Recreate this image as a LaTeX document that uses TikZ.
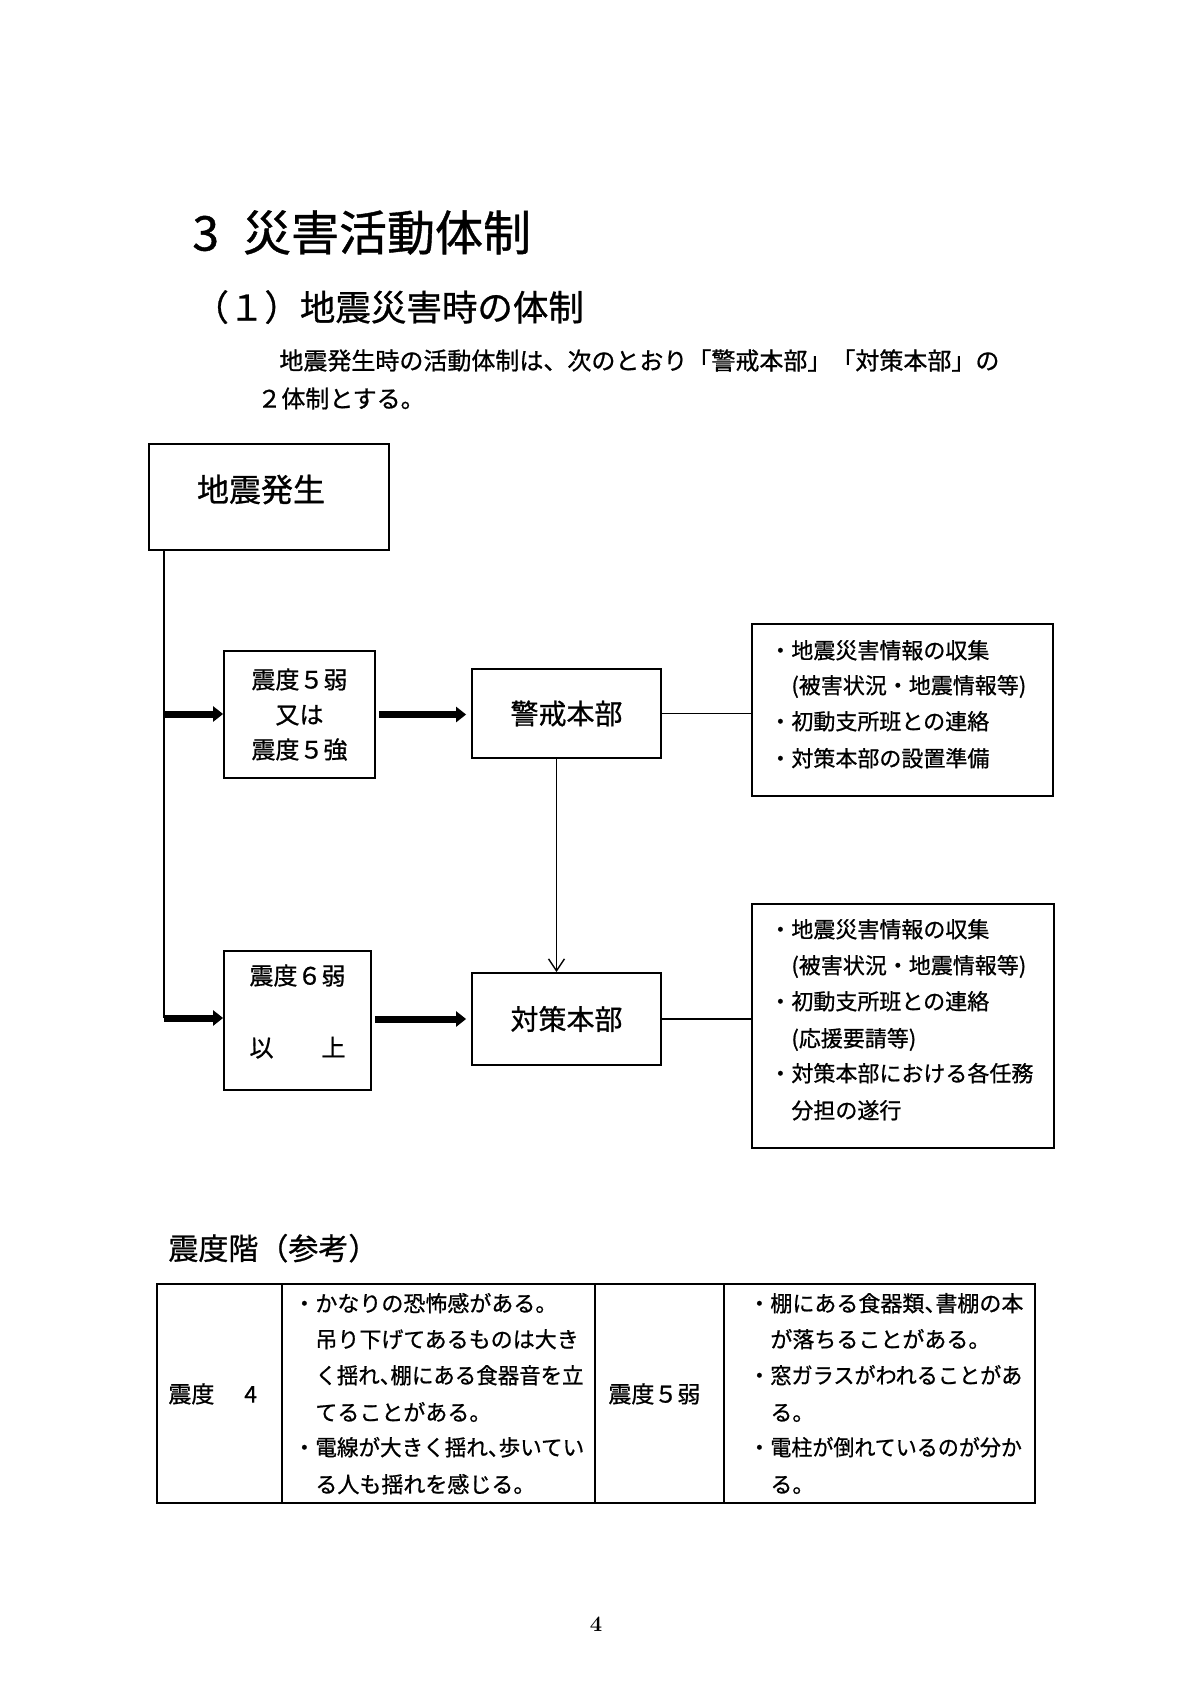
\documentclass[tikz,border=0pt]{standalone}
\usepackage{fontspec}
\usepackage{graphicx}
\newfontfamily\jp{Noto Sans CJK JP}[FakeBold=0.8]
\usetikzlibrary{arrows.meta}
\newcommand{\jcomma}{\makebox[0.5em][l]{、}}
\begin{document}
\begin{tikzpicture}[x=0.5pt,y=-0.5pt,
  box/.style={draw, line width=0.9pt, inner sep=0pt},
  txt/.style={inner sep=0pt, anchor=west, text height=0.88em, text depth=0.12em},
  fs/.style={font=\jp\fontsize{#1}{#1}\selectfont},
  fat/.style={line width=3.5pt, -{Triangle[length=5pt,width=7.5pt]}},
  thinline/.style={line width=0.7pt},
]
\fill[white] (0,0) rectangle (1200,1696);
\useasboundingbox (0,0) rectangle (1200,1696);

% headings
\node[txt, fs=24] (title) at (192,243) {3\hspace{0.5em}災害活動体制};
\node[txt, fs=17.75] (sub) at (193,313) {（１）地震災害時の体制};
\node[txt, fs=12] (p1) at (279,362) {地震発生時の活動体制は、次のとおり「警戒本部」「対策本部」の};
\node[txt, fs=12] (p2) at (257,400) {２体制とする。};

% flow boxes
\node[box, minimum width=120pt, minimum height=53pt] (eq) at (269,497) {};
\node[txt, anchor=center, fs=16] (eqt) at (261,494) {地震発生};
\node[box, minimum width=75.5pt, minimum height=63.5pt, align=center, font=\jp\fontsize{12}{17.5}\selectfont] (b5) at (299.5,714.5) {震度５弱\\又は\\震度５強};
\node[box, minimum width=94.5pt, minimum height=44.5pt, fs=14] (kei) at (566.5,713.5) {警戒本部};
\node[box, minimum width=150.5pt, minimum height=86pt] (info1) at (902.5,710) {};
\node[box, minimum width=73.5pt, minimum height=69.5pt] (b6) at (297.5,1020.5) {};
\node[txt, anchor=center, fs=12] (b6a) at (297.5,977) {震度６弱};
\node[txt, anchor=center, fs=12] (b6b) at (297.5,1049) {以\hspace{2em}上};
\node[box, minimum width=94.5pt, minimum height=46pt, fs=14] (tai) at (566.5,1019) {対策本部};
\node[box, minimum width=151pt, minimum height=122pt] (info2) at (903,1026) {};

% info texts
\node[txt, fs=11] (i1a) at (769,651) {・地震災害情報の収集};
\node[txt, fs=11] (i1b) at (791,686) {(被害状況・地震情報等)};
\node[txt, fs=11] (i1c) at (769,722) {・初動支所班との連絡};
\node[txt, fs=11] (i1d) at (769,759) {・対策本部の設置準備};

\node[txt, fs=11] (i2a) at (769,930) {・地震災害情報の収集};
\node[txt, fs=11] (i2b) at (791,966) {(被害状況・地震情報等)};
\node[txt, fs=11] (i2c) at (769,1002) {・初動支所班との連絡};
\node[txt, fs=11] (i2d) at (791,1039) {(応援要請等)};
\node[txt, fs=11] (i2e) at (769,1074) {・対策本部における各任務};
\node[txt, fs=11] (i2f) at (791,1111) {分担の遂行};

% connectors
\coordinate (j1) at (164,714);
\coordinate (j2) at (164,1018);
\draw[thinline] (eq.south -| j1) -- (j2);
\draw[fat] (j1) -- (b5.west |- j1);
\draw[fat] (j2) -- (b6.west |- j2);
\draw[fat] ([xshift=1.5pt]b5.east) -- ([xshift=-2.5pt]b5.east -| kei.west);
\draw[fat] ([xshift=1.5pt]b6.east |- tai.west) -- ([xshift=-2.5pt]tai.west);
\draw[thinline] (kei.east) -- (kei.east -| info1.west);
\draw[thinline] (tai.east) -- (tai.east -| info2.west);
\draw[thinline, -{Straight Barb[length=6pt,width=8pt]}] ([xshift=-5pt]kei.south) -- ([xshift=-5pt]tai.north);

% reference table
\node[txt, fs=15] (tblhead) at (168,1252) {震度階（参考）};
\draw[line width=0.9pt] (157,1284) rectangle (1035,1503);
\draw[line width=0.9pt] (282,1284) -- (282,1503);
\draw[line width=0.9pt] (595,1284) -- (595,1503);
\draw[line width=0.9pt] (724,1284) -- (724,1503);

\node[txt, fs=11.5] (c1) at (168,1395) {震度\hspace{1.3em}4};
\node[txt, fs=11.5] (c3) at (608,1395) {震度５弱};

\node[txt, fs=11] (c2a) at (293,1304) {・かなりの恐怖感がある。};
\node[txt, fs=11] (c2b) at (315,1340) {吊り下げてあるものは大き};
\node[txt, fs=11] (c2c) at (315,1376) {\scalebox{0.975}[1]{く揺れ\jcomma 棚にある食器音を立}};
\node[txt, fs=11] (c2d) at (315,1413) {てることがある。};
\node[txt, fs=11] (c2e) at (293,1448) {・\scalebox{0.98}[1]{電線が大きく揺れ\jcomma 歩いてい}};
\node[txt, fs=11] (c2f) at (315,1485) {る人も揺れを感じる。};

\node[txt, fs=11] (c4a) at (748,1304) {・棚にある食器類\jcomma 書棚の本};
\node[txt, fs=11] (c4b) at (770,1340) {が落ちることがある。};
\node[txt, fs=11] (c4c) at (748,1376) {・\scalebox{0.96}[1]{窓ガラスがわれることがあ}};
\node[txt, fs=11] (c4d) at (770,1413) {る。};
\node[txt, fs=11] (c4e) at (748,1448) {・\scalebox{0.955}[1]{電柱が倒れているのが分か}};
\node[txt, fs=11] (c4f) at (770,1485) {る。};

\node[font=\bfseries\fontsize{11}{13}\selectfont, inner sep=0pt] (pnum) at (596,1624) {4};
\end{tikzpicture}
\end{document}
